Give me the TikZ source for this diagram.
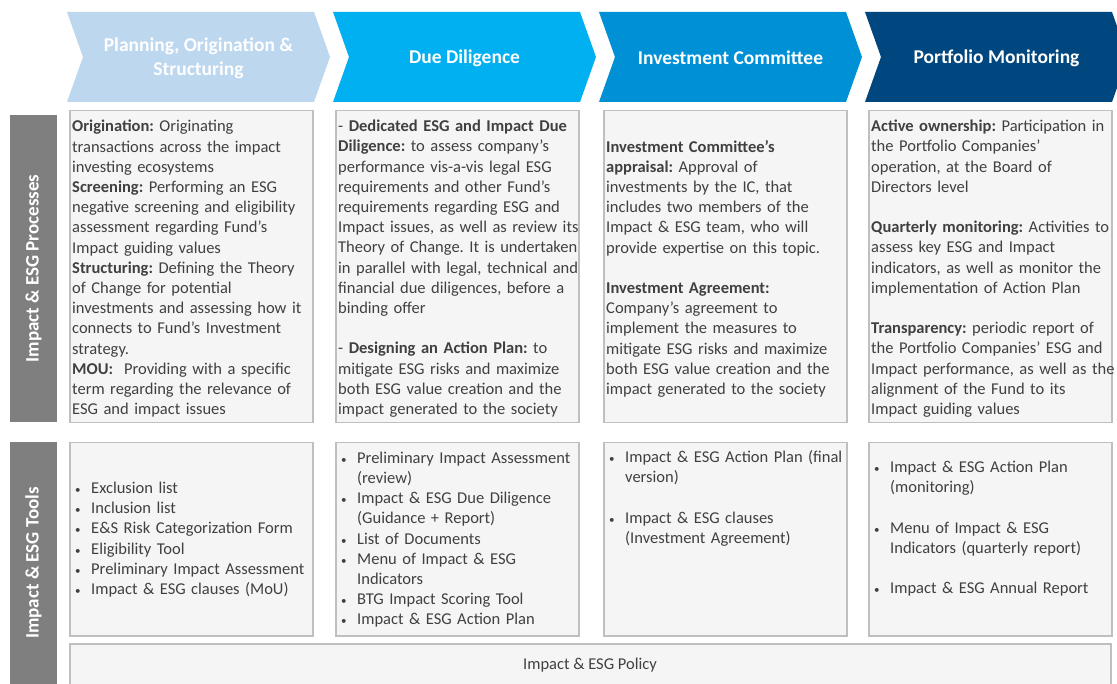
\documentclass[tikz,border=0pt]{standalone}
\usepackage{fontspec}
\setmainfont{Carlito}
\usetikzlibrary{positioning}
\definecolor{chevA}{HTML}{BDD7EE}
\definecolor{chevB}{HTML}{00B0F0}
\definecolor{chevC}{HTML}{0090D5}
\definecolor{chevD}{HTML}{00467F}
\definecolor{sidegray}{HTML}{7F7F7F}
\definecolor{boxfill}{HTML}{F5F5F5}
\definecolor{boxline}{HTML}{BFBFBF}
\definecolor{bodytext}{HTML}{404040}
\newcommand{\bul}[1]{\par\noindent\hangindent=19pt\hangafter=1\makebox[19pt][l]{\hspace{3pt}{\fontsize{11}{11}\selectfont\textbullet}}#1\par}
\newcommand{\gap}{\par\vspace{20.2pt}}
\tikzstyle{phasetext}=[text=white, font=\fontsize{19.5}{24}\selectfont\bfseries, align=center]
\tikzstyle{sidebar}=[fill=sidegray, text=white, font=\fontsize{19}{20}\selectfont\bfseries, rotate=90, inner sep=0pt]
\tikzstyle{cellbox}=[draw=boxline, fill=boxfill, line width=1.5pt, inner sep=0pt, anchor=north west]
\tikzstyle{celltext}=[text=bodytext, font=\fontsize{16.5}{20.2}\selectfont\frenchspacing, align=left, inner sep=0pt, anchor=west]
\begin{document}
\begin{tikzpicture}[x=1pt, y=-1pt]
\clip (0,0) rectangle (1117,684);
\fill[white] (0,0) rectangle (1117,684);
% phase chevrons
\foreach \lbl/\col [count=\i from 0] in {{Planning, Origination \&\\Structuring}/chevA, {Due Diligence}/chevB, {Investment Committee}/chevC, {Portfolio Monitoring}/chevD}{
  \pgfmathsetmacro{\xl}{67+266*\i}
  \fill[\col] (\xl,12) -- ++(247,0) -- ++(16,45) -- ++(-16,45) -- ++(-247,0) -- ++(16,-45) -- cycle;
  \node[phasetext] (phase\i) at (\xl+131.5,58) {\lbl};
}
% side labels
\node[sidebar, minimum width=307pt, minimum height=47pt] (sideproc) at (33.5,268.5) {Impact \& ESG Processes};
\node[sidebar, minimum width=242pt, minimum height=47pt] (sidetool) at (33.5,563) {Impact \& ESG Tools};
% process boxes
\node[cellbox, minimum width=243pt, minimum height=312pt] (proc1) at (69,110) {};
\node[cellbox, minimum width=243pt, minimum height=312pt] (proc2) at (335,110) {};
\node[cellbox, minimum width=243pt, minimum height=312pt] (proc3) at (603,110) {};
\node[cellbox, minimum width=243pt, minimum height=312pt] (proc4) at (868,110) {};
% tool boxes
\node[cellbox, minimum width=243pt, minimum height=193pt] (tool1) at (69,442) {};
\node[cellbox, minimum width=243pt, minimum height=193pt] (tool2) at (335,442) {};
\node[cellbox, minimum width=243pt, minimum height=193pt] (tool3) at (603,442) {};
\node[cellbox, minimum width=243pt, minimum height=193pt] (tool4) at (868,442) {};
\node[cellbox, minimum width=1041pt, minimum height=46pt] (policy) at (69,643) {};

\node[celltext, text width=245pt] (proctxt1) at ([xshift=3pt, yshift=-2pt]proc1.west) {%
\textbf{Origination:} Originating\\
transactions across the impact\\
investing ecosystems\\
\textbf{Screening:} Performing an ESG\\
negative screening and eligibility\\
assessment regarding Fund’s\\
Impact guiding values\\
\textbf{Structuring:} Defining the Theory\\
of Change for potential\\
investments and assessing how it\\
connects to Fund’s Investment\\
strategy.\\
\textbf{MOU:}\ \ Providing with a specific\\
term regarding the relevance of\\
ESG and impact issues};
\node[celltext, text width=245pt] (proctxt2) at ([xshift=3pt, yshift=-2pt]proc2.west) {%
- \textbf{Dedicated ESG and Impact Due}\\
\textbf{Diligence:} to assess company’s\\
performance vis-a-vis legal ESG\\
requirements and other Fund’s\\
requirements regarding ESG and\\
Impact issues, as well as review its\\
Theory of Change. It is undertaken\\
in parallel with legal, technical and\\
financial due diligences, before a\\
binding offer\gap
- \textbf{Designing an Action Plan:} to\\
mitigate ESG risks and maximize\\
both ESG value creation and the\\
impact generated to the society};
\node[celltext, text width=245pt] (proctxt3) at ([xshift=3pt, yshift=-2pt]proc3.west) {%
\textbf{Investment Committee’s}\\
\textbf{appraisal:} Approval of\\
investments by the IC, that\\
includes two members of the\\
Impact \& ESG team, who will\\
provide expertise on this topic.\gap
\textbf{Investment Agreement:}\\
Company’s agreement to\\
implement the measures to\\
mitigate ESG risks and maximize\\
both ESG value creation and the\\
impact generated to the society};
\node[celltext, text width=245pt] (proctxt4) at ([xshift=3pt, yshift=-2pt]proc4.west) {%
\textbf{Active ownership:} Participation in\\
the Portfolio Companies’\\
operation, at the Board of\\
Directors level\gap
\textbf{Quarterly monitoring:} Activities to\\
assess key ESG and Impact\\
indicators, as well as monitor the\\
implementation of Action Plan\gap
\textbf{Transparency:} periodic report of\\
the Portfolio Companies’ ESG and\\
Impact performance, as well as the\\
alignment of the Fund to its\\
Impact guiding values};

\node[celltext, text width=245pt] (tooltxt1) at ([xshift=3pt, yshift=4pt]tool1.west) {%
\bul{Exclusion list}
\bul{Inclusion list}
\bul{E\&S Risk Categorization Form}
\bul{Eligibility Tool}
\bul{Preliminary Impact Assessment}
\bul{Impact \& ESG clauses (MoU)}};
\node[celltext, text width=245pt] (tooltxt2) at ([xshift=3pt, yshift=4pt]tool2.west) {%
\bul{Preliminary Impact Assessment\newline(review)}
\bul{Impact \& ESG Due Diligence\newline(Guidance + Report)}
\bul{List of Documents}
\bul{Menu of Impact \& ESG\newline Indicators}
\bul{BTG Impact Scoring Tool}
\bul{Impact \& ESG Action Plan}};
\node[celltext, text width=245pt] (tooltxt3) at ([xshift=3pt, yshift=45pt]tool3.west) {%
\bul{Impact \& ESG Action Plan (final\newline version)}\gap
\bul{Impact \& ESG clauses\newline(Investment Agreement)}};
\node[celltext, text width=245pt] (tooltxt4) at ([xshift=3pt, yshift=15pt]tool4.west) {%
\bul{Impact \& ESG Action Plan\newline(monitoring)}\gap
\bul{Menu of Impact \& ESG\newline Indicators (quarterly report)}\gap
\bul{Impact \& ESG Annual Report}};
\node[text=bodytext, font=\fontsize{16.5}{20.2}\selectfont] (policytxt) at (590,665) {Impact \& ESG Policy};
\end{tikzpicture}
\end{document}
